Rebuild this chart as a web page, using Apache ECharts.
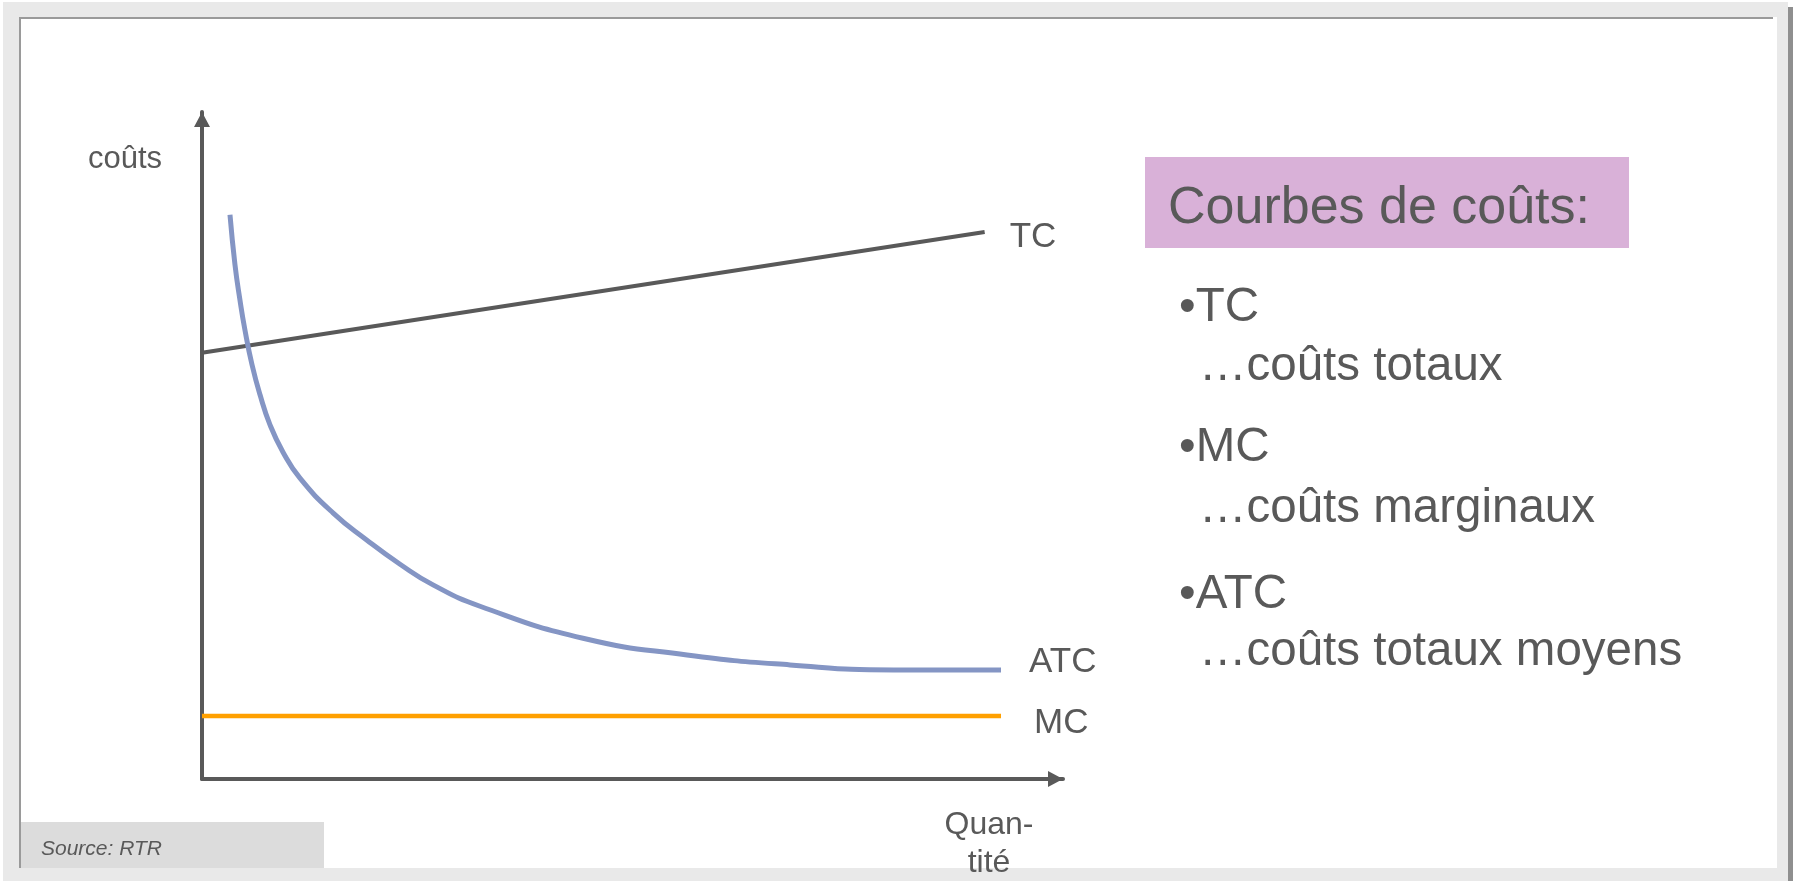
<!DOCTYPE html>
<html>
<head>
<meta charset="utf-8">
<script src="https://cdn.jsdelivr.net/npm/echarts@6/dist/echarts.min.js"></script>
<style>
html,body{margin:0;padding:0;background:#fff;}
#chart{width:1799px;height:882px;}
</style>
</head>
<body>
<div id="chart"></div>
<script>
// ---- data ----
const seriesNames = ['TC', 'ATC', 'MC'];
const tcData = [[0, 63.9], [90.9, 82.0]];
const atcData = [
  [3.25, 84.6], [3.83, 77.1], [4.41, 71.8], [4.99, 67.3], [5.81, 62.1], [6.74, 57.6],
  [7.90, 53.1], [9.41, 49.0], [11.38, 45.1], [15.21, 39.9], [19.16, 35.8], [23.0, 32.2],
  [26.83, 29.1], [32.29, 25.9], [44.25, 21.1], [56.33, 18.6], [68.29, 17.1], [80.37, 16.35], [92.8, 16.35]
];
const mcData = [[0, 9.45], [92.8, 9.45]];
const yAxisName = 'coûts';
const xAxisName = 'Quan-\ntité';
const sourceText = 'Source: RTR';
const panelTitle = 'Courbes de coûts:';
const panelItems = ['•TC', '…coûts totaux', '•MC', '…coûts marginaux', '•ATC', '…coûts totaux moyens'];

const TXT = '#595959';
const FONT = '"Liberation Sans", Arial, sans-serif';

const chart = echarts.init(document.getElementById('chart'), null, {renderer: 'canvas'});

const itemX = [1179, 1199, 1179, 1199, 1179, 1199];
const itemY = [307.5, 366.5, 447.5, 508.5, 594.5, 651.5];

const graphics = [
  {type: 'rect', z: -10, shape: {x: 3, y: 2, width: 1785, height: 879}, style: {fill: '#e9e9e9'}},
  {type: 'rect', z: -10, shape: {x: 1788, y: 7, width: 5, height: 874}, style: {fill: '#8f8f8f'}},
  {type: 'rect', z: -9, shape: {x: 19, y: 17, width: 1758, height: 851}, style: {fill: '#ffffff'}},
  {type: 'rect', z: -8, shape: {x: 19, y: 17, width: 1754, height: 2}, style: {fill: '#9a9a9a'}},
  {type: 'rect', z: -8, shape: {x: 19, y: 17, width: 2, height: 851}, style: {fill: '#9a9a9a'}},
  {type: 'rect', z: -7, shape: {x: 21, y: 822, width: 303, height: 46}, style: {fill: '#dcdcdc'}},
  {type: 'text', x: 41, y: 849, style: {text: sourceText, fill: TXT, font: 'italic 21px ' + FONT, textAlign: 'left', textVerticalAlign: 'middle', align: 'left', verticalAlign: 'middle'}},
  {type: 'text', x: 88, y: 159, style: {text: yAxisName, fill: TXT, font: '31px ' + FONT, textAlign: 'left', textVerticalAlign: 'middle', align: 'left', verticalAlign: 'middle'}},
  {type: 'text', x: 989, y: 844, style: {text: xAxisName, fill: TXT, font: '32px ' + FONT, lineHeight: 38, textAlign: 'center', textVerticalAlign: 'middle', align: 'center', verticalAlign: 'middle'}},
  {type: 'rect', z: -7, shape: {x: 1145, y: 157, width: 484, height: 91}, style: {fill: '#d9b1d8'}},
  {type: 'text', x: 1168, y: 209, style: {text: panelTitle, fill: TXT, font: '52px ' + FONT, textAlign: 'left', textVerticalAlign: 'middle', align: 'left', verticalAlign: 'middle'}}
];
panelItems.forEach((t, i) => {
  graphics.push({type: 'text', x: itemX[i], y: itemY[i], style: {text: t, fill: TXT, font: '47.5px ' + FONT, textAlign: 'left', textVerticalAlign: 'middle', align: 'left', verticalAlign: 'middle'}});
});

const axisCommon = {
  type: 'value', min: 0, max: 100,
  axisLine: {show: true, symbol: ['none', 'triangle'], symbolSize: [16, 15], symbolOffset: [0, -7.5], lineStyle: {color: '#595959', width: 4}},
  axisTick: {show: false}, axisLabel: {show: false}, splitLine: {show: false}
};

function endLabel(dx, dy, size) {
  return {show: true, formatter: '{a}', color: TXT, fontFamily: FONT, fontSize: size, distance: dx, offset: [0, dy]};
}

chart.setOption({
  animation: false,
  backgroundColor: '#ffffff',
  grid: {left: 202, top: 112, width: 861, height: 667},
  xAxis: Object.assign({}, axisCommon),
  yAxis: Object.assign({}, axisCommon),
  graphic: graphics,
  series: [
    {name: seriesNames[0], type: 'line', data: tcData, showSymbol: false, symbol: 'none',
     lineStyle: {color: '#595959', width: 4}, endLabel: endLabel(25, 5, 35)},
    {name: seriesNames[1], type: 'line', data: atcData, showSymbol: false, symbol: 'none', smooth: 0.5,
     lineStyle: {color: '#8495c4', width: 5}, endLabel: endLabel(28, -8, 35)},
    {name: seriesNames[2], type: 'line', data: mcData, showSymbol: false, symbol: 'none',
     lineStyle: {color: '#ffa000', width: 4.5}, endLabel: endLabel(33, 7, 35)}
  ]
});
</script>
</body>
</html>
